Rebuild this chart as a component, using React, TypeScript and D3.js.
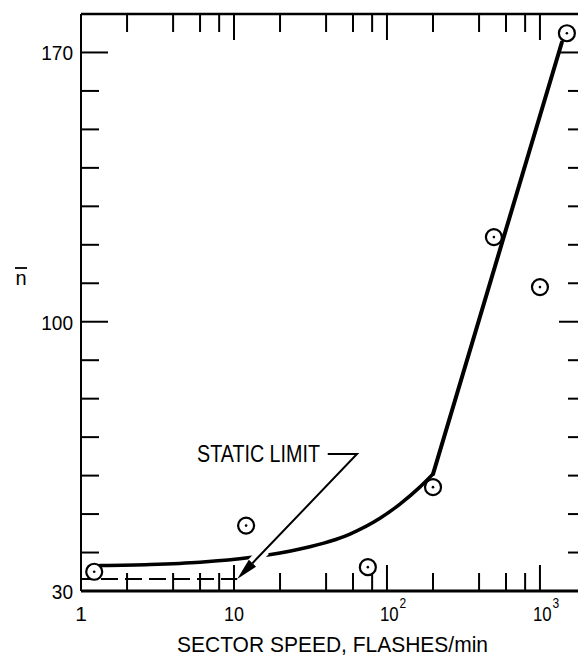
import React from "react";
import * as d3 from "d3";

// Measured chain length vs. sector speed
const speedValues = [1.22, 12, 75, 200, 500, 1000, 1500];
const nValues = [35, 47, 36.2, 57, 122, 109, 175];

// Smooth fitted curve (low-speed region) and straight high-speed branch
const curveSpeed = [1.33, 2.83, 6, 12.7, 27, 57.3, 90, 121.6, 164, 200];
const curveN = [36.6, 36.9, 37.5, 38.7, 40.9, 44.8, 48.9, 52.6, 57.0, 60.4];
const branchSpeed = [200, 1390];
const branchN = [60.4, 172.6];

// Static limit value and its leader annotation
const staticLimitN = 33.1;
const staticLimitSpeed = 10.5;
const leaderElbow = { speed: 63.7, n: 65.6 };
const leaderStart = { speed: 41, n: 65.6 };

// Axis ticks
const yTickValues = [40, 50, 60, 70, 80, 90, 100, 110, 120, 130, 140, 150, 160, 170];
const yMajor = [100, 170];
const yLabels = ["30", "100", "170"];
const decades = [1, 10, 100];
const xMinorMult = [2, 4, 6, 8];
const xMajor = [10, 100, 1000];
const xPowLabels = [
  { value: 100, exp: "2" },
  { value: 1000, exp: "3" },
];

const W = 578;
const H = 659;
const FONT = "'Liberation Sans', Arial, sans-serif";

export default function App() {
  const x = d3.scaleLog().domain([1, 2000]).range([81, 586]);
  const y = d3.scaleLinear().domain([30, 180]).range([591, 14]);
  const [x0, x1] = x.range();
  const [yb, yt] = y.range();

  const minorX: number[] = [];
  decades.forEach((d) => xMinorMult.forEach((m) => minorX.push(d * m)));

  const curveLine = d3
    .line<number>()
    .x((_, i) => x(curveSpeed[i]))
    .y((_, i) => y(curveN[i]))
    .curve(d3.curveMonotoneX);
  const branchLine = d3
    .line<number>()
    .x((_, i) => x(branchSpeed[i]))
    .y((_, i) => y(branchN[i]));

  // Leader geometry
  const tip = { px: x(staticLimitSpeed), py: y(staticLimitN) };
  const elbow = { px: x(leaderElbow.speed), py: y(leaderElbow.n) };
  const start = { px: x(leaderStart.speed), py: y(leaderStart.n) };
  const dx = elbow.px - tip.px;
  const dy = elbow.py - tip.py;
  const len = Math.hypot(dx, dy);
  const ux = dx / len;
  const uy = dy / len;
  const headLen = 22;
  const headHalf = 5;
  const bx = tip.px + ux * headLen;
  const by = tip.py + uy * headLen;
  const head = [
    [tip.px, tip.py],
    [bx - uy * headHalf, by + ux * headHalf],
    [bx + uy * headHalf, by - ux * headHalf],
  ];
  const haloA = { px: tip.px + ux * 18, py: tip.py + uy * 18 };
  const haloB = { px: tip.px + ux * 40, py: tip.py + uy * 40 };

  return (
    <svg
      width={W}
      height={H}
      style={{ position: "absolute", left: 0, top: 0, background: "#fff" }}
      fontFamily={FONT}
    >
      <rect width={W} height={H} fill="#fff" />

      {/* frame */}
      <line x1={x0} x2={x0} y1={yt} y2={yb} stroke="#000" strokeWidth={2} />
      <line x1={x0} x2={x1 + 2} y1={yb} y2={yb} stroke="#000" strokeWidth={3} />
      <line x1={x0} x2={x1 + 2} y1={yt} y2={yt} stroke="#000" strokeWidth={2.5} />
      <line x1={x1} x2={x1} y1={yt} y2={yb} stroke="#000" strokeWidth={2} />

      {/* y ticks, left and right */}
      {yTickValues.map((v) => {
        const L = yMajor.includes(v) ? 27 : 18;
        return (
          <g key={"yt" + v} stroke="#000" strokeWidth={2}>
            <line x1={x0} x2={x0 + L} y1={y(v)} y2={y(v)} />
            <line x1={x1} x2={x1 - L} y1={y(v)} y2={y(v)} />
          </g>
        );
      })}

      {/* x ticks, bottom and top */}
      {[...minorX, ...xMajor].map((v) => {
        const L = xMajor.includes(v) ? 26 : 18;
        return (
          <g key={"xt" + v} stroke="#000" strokeWidth={2}>
            <line x1={x(v)} x2={x(v)} y1={yb} y2={yb - L} />
            <line x1={x(v)} x2={x(v)} y1={yt} y2={yt + L} />
          </g>
        );
      })}

      {/* y tick labels */}
      {yLabels.map((s) => (
        <text
          key={"yl" + s}
          x={73}
          y={y(+s) + 8}
          textAnchor="end"
          fontSize={21}
          textLength={s.length * 10.6}
          lengthAdjust="spacingAndGlyphs"
        >
          {s}
        </text>
      ))}

      {/* x tick labels */}
      <text x={x(1)} y={621} textAnchor="middle" fontSize={21}>
        1
      </text>
      <text x={x(10)} y={621} textAnchor="middle" fontSize={21} textLength={20} lengthAdjust="spacingAndGlyphs">
        10
      </text>
      {xPowLabels.map((d) => (
        <text key={"xl" + d.value} transform={`translate(${x(d.value) - 7},621) scale(0.8,1)`} fontSize={21}>
          10
          <tspan dx={1} dy={-13} fontSize={15}>
            {d.exp}
          </tspan>
        </text>
      ))}

      {/* axis titles */}
      <text x={177} y={652} fontSize={22} textLength={311} lengthAdjust="spacingAndGlyphs">
        SECTOR SPEED, FLASHES/min
      </text>
      <text x={21} y={285} textAnchor="middle" fontSize={20}>
        n
      </text>
      <line x1={15} x2={27} y1={268} y2={268} stroke="#000" strokeWidth={1.8} />

      {/* static limit dashed line */}
      <line
        x1={x(1)}
        x2={tip.px}
        y1={y(staticLimitN)}
        y2={y(staticLimitN)}
        stroke="#000"
        strokeWidth={2}
        strokeDasharray="17 7"
        strokeDashoffset={-20}
      />

      {/* fitted curve */}
      <path d={curveLine(curveSpeed) ?? ""} fill="none" stroke="#000" strokeWidth={3.5} strokeLinecap="round" />
      <path d={branchLine(branchSpeed) ?? ""} fill="none" stroke="#000" strokeWidth={4} strokeLinecap="round" />

      {/* leader with arrow */}
      <line x1={haloA.px} y1={haloA.py} x2={haloB.px} y2={haloB.py} stroke="#fff" strokeWidth={11} />
      <polyline
        points={`${start.px},${start.py} ${elbow.px},${elbow.py} ${bx},${by}`}
        fill="none"
        stroke="#000"
        strokeWidth={2}
      />
      <polygon points={head.map((p) => p.join(",")).join(" ")} fill="#000" />
      <text x={197} y={462} fontSize={23} textLength={123} lengthAdjust="spacingAndGlyphs">
        STATIC LIMIT
      </text>

      {/* data points */}
      {speedValues.map((s, i) => (
        <g key={"pt" + i}>
          <circle cx={x(s)} cy={y(nValues[i])} r={8} fill="#fff" stroke="#000" strokeWidth={2.2} />
          <circle cx={x(s)} cy={y(nValues[i])} r={1.3} fill="#000" />
        </g>
      ))}
    </svg>
  );
}
